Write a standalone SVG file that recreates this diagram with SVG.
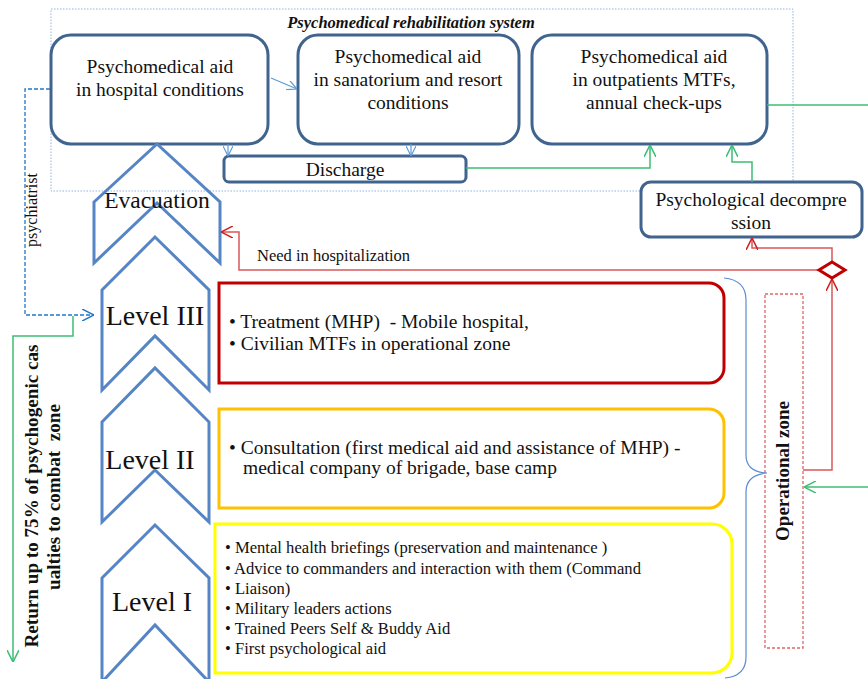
<svg xmlns="http://www.w3.org/2000/svg" width="868" height="679" viewBox="0 0 868 679">
<style>
text{font-family:"Liberation Serif","Times New Roman",serif;fill:#111;white-space:pre}
.box{fill:#fff;stroke:#41648F;stroke-width:3}
.chev{fill:none;stroke:#5585C5;stroke-width:3;stroke-linejoin:miter}
.t18{font-size:19.5px;text-anchor:middle}
.lvl{font-size:28px;text-anchor:middle}
.b17{font-size:19.5px}
.b15{font-size:16.6px}
.blue{fill:none;stroke:#5B9BD5;stroke-width:1.2}
.green{fill:none;stroke:#3CBF73;stroke-width:1.5}
.red{fill:none;stroke:#D9585A;stroke-width:1.5}
</style>
<defs>
<marker id="aBlue" viewBox="0 0 10 10" refX="10" refY="5" markerWidth="10" markerHeight="10" markerUnits="userSpaceOnUse" orient="auto"><path d="M0,0 L10,5 L0,10" fill="none" stroke="#5B9BD5" stroke-width="1.2"/></marker>
<marker id="aDBlue" viewBox="0 0 10 10" refX="10" refY="5" markerWidth="12" markerHeight="12" markerUnits="userSpaceOnUse" orient="auto"><path d="M0,0 L10,5 L0,10" fill="none" stroke="#1F78C8" stroke-width="1.3"/></marker>
<marker id="aGreen" viewBox="0 0 10 10" refX="10" refY="5" markerWidth="12" markerHeight="12" markerUnits="userSpaceOnUse" orient="auto"><path d="M0,0 L10,5 L0,10" fill="none" stroke="#3CBF73" stroke-width="1.3"/></marker>
<marker id="aRed" viewBox="0 0 10 10" refX="10" refY="5" markerWidth="12" markerHeight="12" markerUnits="userSpaceOnUse" orient="auto"><path d="M0,0 L10,5 L0,10" fill="none" stroke="#D02020" stroke-width="1.3"/></marker>
</defs>

<g id="rehab-system">
<rect x="51" y="9" width="742" height="182" fill="none" stroke="#8EB4E3" stroke-width="1" stroke-dasharray="1.5 1.5"/>
<text x="411" y="28" style="font-size:16.5px;font-weight:bold;font-style:italic;text-anchor:middle">Psychomedical rehabilitation system</text>
</g>

<g id="hospital">
<rect class="box" x="51" y="35" width="217" height="109" rx="20"/>
<text class="t18" x="160" y="73">Psychomedical aid</text>
<text class="t18" x="160" y="96">in hospital conditions</text>
</g>
<g id="sanatorium">
<rect class="box" x="298" y="35" width="221" height="109" rx="20"/>
<text class="t18" x="408" y="63">Psychomedical aid</text>
<text class="t18" x="408" y="86">in sanatorium and resort</text>
<text class="t18" x="408" y="109">conditions</text>
</g>
<g id="outpatients">
<rect class="box" x="532" y="35" width="235" height="109" rx="20"/>
<text class="t18" x="654" y="63">Psychomedical aid</text>
<text class="t18" x="654" y="86">in outpatients MTFs,</text>
<text class="t18" x="654" y="109">annual check-ups</text>
</g>
<g id="discharge">
<rect class="box" x="224" y="156" width="242" height="26" rx="5"/>
<text class="t18" x="345" y="176">Discharge</text>
</g>
<g id="decompression">
<rect class="box" x="641" y="182" width="221" height="55" rx="10"/>
<text class="t18" x="751" y="206">Psychological decompre</text>
<text class="t18" x="751" y="229">ssion</text>
</g>

<g id="evacuation">
<path class="chev" d="M94,202 L157,144 L220,202 L220,263 L157,203 L94,263 Z"/>
<text x="157" y="208" style="font-size:23.5px;text-anchor:middle">Evacuation</text>
</g>
<g id="level3">
<path class="chev" d="M102,290 L155,237 L209,290 L209,390 L155,336 L102,390 Z"/>
<text class="lvl" x="155" y="325">Level III</text>
</g>
<g id="level2">
<path class="chev" d="M102,422 L155,368 L209,422 L209,522 L155,470 L102,522 Z"/>
<text class="lvl" x="150" y="469">Level II</text>
</g>
<g id="level1">
<path class="chev" d="M102,578 L155,525 L209,578 L209,682 L155,625 L102,682 Z"/>
<text class="lvl" x="152" y="611">Level I</text>
</g>

<g id="level3-box">
<path d="M219,283 H709 A15,15 0 0 1 724,298 V368 A15,15 0 0 1 709,383 H219 Z" fill="#fff" stroke="#C00000" stroke-width="3"/>
<text class="b17" x="229" y="328">• Treatment (MHP)  - Mobile hospital,</text>
<text class="b17" x="229" y="350">• Civilian MTFs in operational zone</text>
</g>
<g id="level2-box">
<path d="M219,409 H709 A15,15 0 0 1 724,424 V493 A15,15 0 0 1 709,508 H219 Z" fill="#fff" stroke="#FFC000" stroke-width="3"/>
<text class="b17" x="229" y="454">• Consultation (first medical aid and assistance of MHP) -</text>
<text class="b17" x="243" y="474">medical company of brigade, base camp</text>
</g>
<g id="level1-box">
<path d="M215,524 H712 A20,20 0 0 1 732,544 V653 A20,20 0 0 1 712,673 H215 Z" fill="#fff" stroke="#FFFF00" stroke-width="3"/>
<text class="b15" x="225" y="553">• Mental health briefings (preservation and maintenance )</text>
<text class="b15" x="225" y="574">• Advice to commanders and interaction with them (Command</text>
<text class="b15" x="225" y="594">• Liaison)</text>
<text class="b15" x="225" y="614">• Military leaders actions</text>
<text class="b15" x="225" y="634">• Trained Peers Self &amp; Buddy Aid</text>
<text class="b15" x="225" y="654">• First psychological aid</text>
</g>

<g id="operational-zone">
<rect x="765" y="294" width="38" height="354" fill="none" stroke="#E06666" stroke-width="1.3" stroke-dasharray="3 2"/>
<text transform="translate(789,471) rotate(-90)" style="font-size:19px;font-weight:bold;text-anchor:middle">Operational zone</text>
</g>
<g id="brace">
<path d="M724,278 Q746,280 746,300 V455 Q746,472 767,473 Q746,475 746,492 V657 Q746,676 725,678" fill="none" stroke="#5B8BD0" stroke-width="1.2"/>
</g>
<g id="return-label">
<text transform="translate(38,496) rotate(-90)" textLength="303" lengthAdjust="spacingAndGlyphs" style="font-size:18px;font-weight:bold;text-anchor:middle">Return up to 75% of psychogenic cas</text>
<text transform="translate(60,497) rotate(-90)" textLength="186" lengthAdjust="spacingAndGlyphs" style="font-size:18px;font-weight:bold;text-anchor:middle">ualties to combat  zone</text>
</g>

<g id="connectors">
<path class="blue" d="M271,78 L297,89" marker-end="url(#aBlue)"/>
<path class="blue" d="M228,144 V156" marker-end="url(#aBlue)"/>
<path class="blue" d="M411,144 V156" marker-end="url(#aBlue)"/>
<path class="green" d="M466,168 H650 V145" marker-end="url(#aGreen)"/>
<path class="green" d="M752,182 V162 H732 V145" marker-end="url(#aGreen)"/>
<path class="green" d="M767,105 H868"/>
<path class="green" d="M868,487 H804" marker-end="url(#aGreen)"/>
<path d="M50,89 H25 V315 H94" fill="none" stroke="#1F78C8" stroke-width="1.3" stroke-dasharray="4 2" marker-end="url(#aDBlue)"/>
<text transform="translate(37,210) rotate(-90)" style="font-size:16px;text-anchor:middle">psychiatrist</text>
<path class="green" d="M73,316 V336 H13 V662" marker-end="url(#aGreen)"/>
<path class="red" d="M819,270 H239 V232 H221" marker-end="url(#aRed)"/>
<text x="257" y="261" style="font-size:16.5px">Need in hospitalization</text>
<path class="red" d="M832,262 V248 H752 V238" marker-end="url(#aRed)"/>
<path class="red" d="M803,470 H832 V279" marker-end="url(#aRed)"/>
<path d="M819,270 L832,262 L845,270 L832,278 Z" fill="#fff" stroke="#C00000" stroke-width="3"/>
</g>
</svg>
